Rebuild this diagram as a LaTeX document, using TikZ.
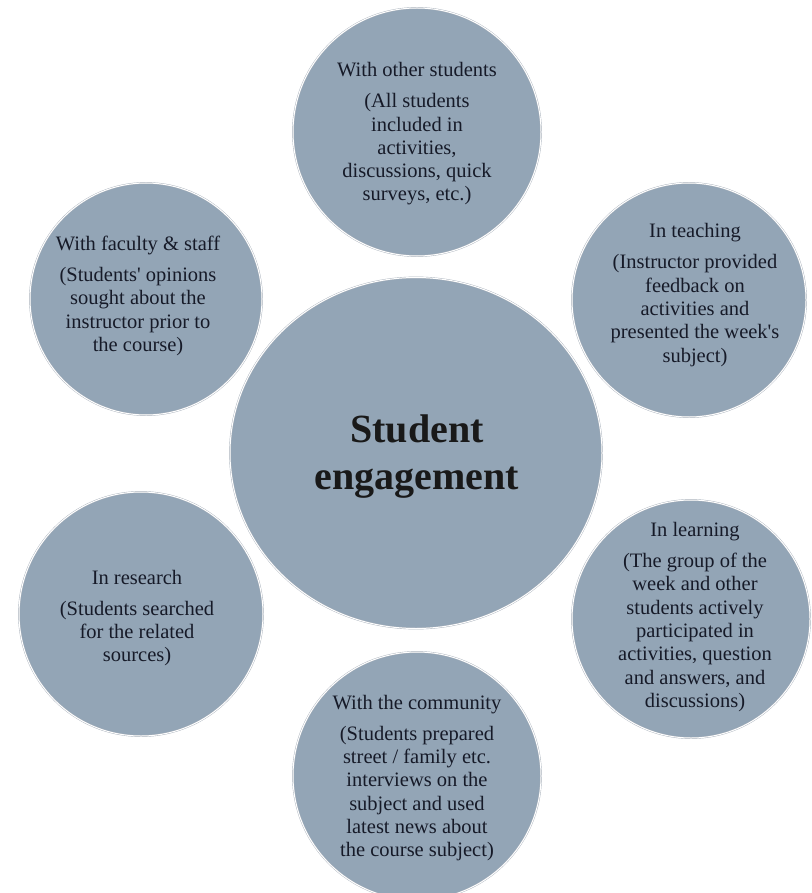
\documentclass[tikz,border=0pt]{standalone}
\usepackage{fontspec}
\setmainfont{Liberation Serif}
\usetikzlibrary{shapes.geometric}
\definecolor{bubblefill}{RGB}{147,165,182}
\definecolor{bubbleline}{RGB}{170,178,188}
\definecolor{inkblue}{RGB}{22,26,40}
\begin{document}
\begin{tikzpicture}[x=1pt,y=-1pt,
  bubble/.style={draw=bubbleline, double=white, double distance=1pt, line width=0.4pt,
    fill=bubblefill, circle, inner sep=0pt, minimum size=#1},
  blurb/.style={align=center, text=inkblue, inner sep=0pt,
    font=\fontsize{20.5}{23.3}\selectfont},
  hub/.style={draw=bubbleline, double=white, double distance=1pt, line width=0.4pt,
    fill=bubblefill, ellipse, inner sep=0pt, minimum width=372pt, minimum height=351pt}]
\useasboundingbox (0,0) rectangle (811,893);

% centre
\node[hub] (eng) at (416,453) {};
\node[align=center, text=black!90, font=\fontsize{40}{47}\selectfont\bfseries] (engtxt) at (417,457)
  {Student\\engagement};

% top
\node[bubble=248pt] (peers) at (417,132) {};
\node[blurb] (peerstxt) at (417,134)
  {With other students\\[7.7pt] (All students\\included in\\activities,\\discussions, quick\\surveys, etc.)};

% upper left
\node[bubble=232pt] (staff) at (146,299) {};
\node[blurb] (stafftxt) at (138,296)
  {With faculty \& staff\\[7.7pt] (Students\textquotesingle{} opinions\\sought about the\\instructor prior to\\the course)};

% upper right
\node[bubble=234pt] (teach) at (689,300) {};
\node[blurb] (teachtxt) at (695,295)
  {In teaching\\[7.7pt] (Instructor provided\\feedback on\\activities and\\presented the week\textquotesingle s\\subject)};

% lower right
\node[bubble=238pt] (learn) at (691,619) {};
\node[blurb] (learntxt) at (695,617)
  {In learning\\[7.7pt] (The group of the\\week and other\\students actively\\participated in\\activities, question\\and answers, and\\discussions)};

% lower left
\node[bubble=244pt] (search) at (141,614) {};
\node[blurb] (searchtxt) at (137,618)
  {In research\\[7.7pt] (Students searched\\for the related\\sources)};

% bottom
\node[bubble=248pt] (commun) at (417,776) {};
\node[blurb] (communtxt) at (417,778)
  {With the community\\[7.7pt] (Students prepared\\street / family etc.\\interviews on the\\subject and used\\latest news about\\the course subject)};
\end{tikzpicture}
\end{document}
